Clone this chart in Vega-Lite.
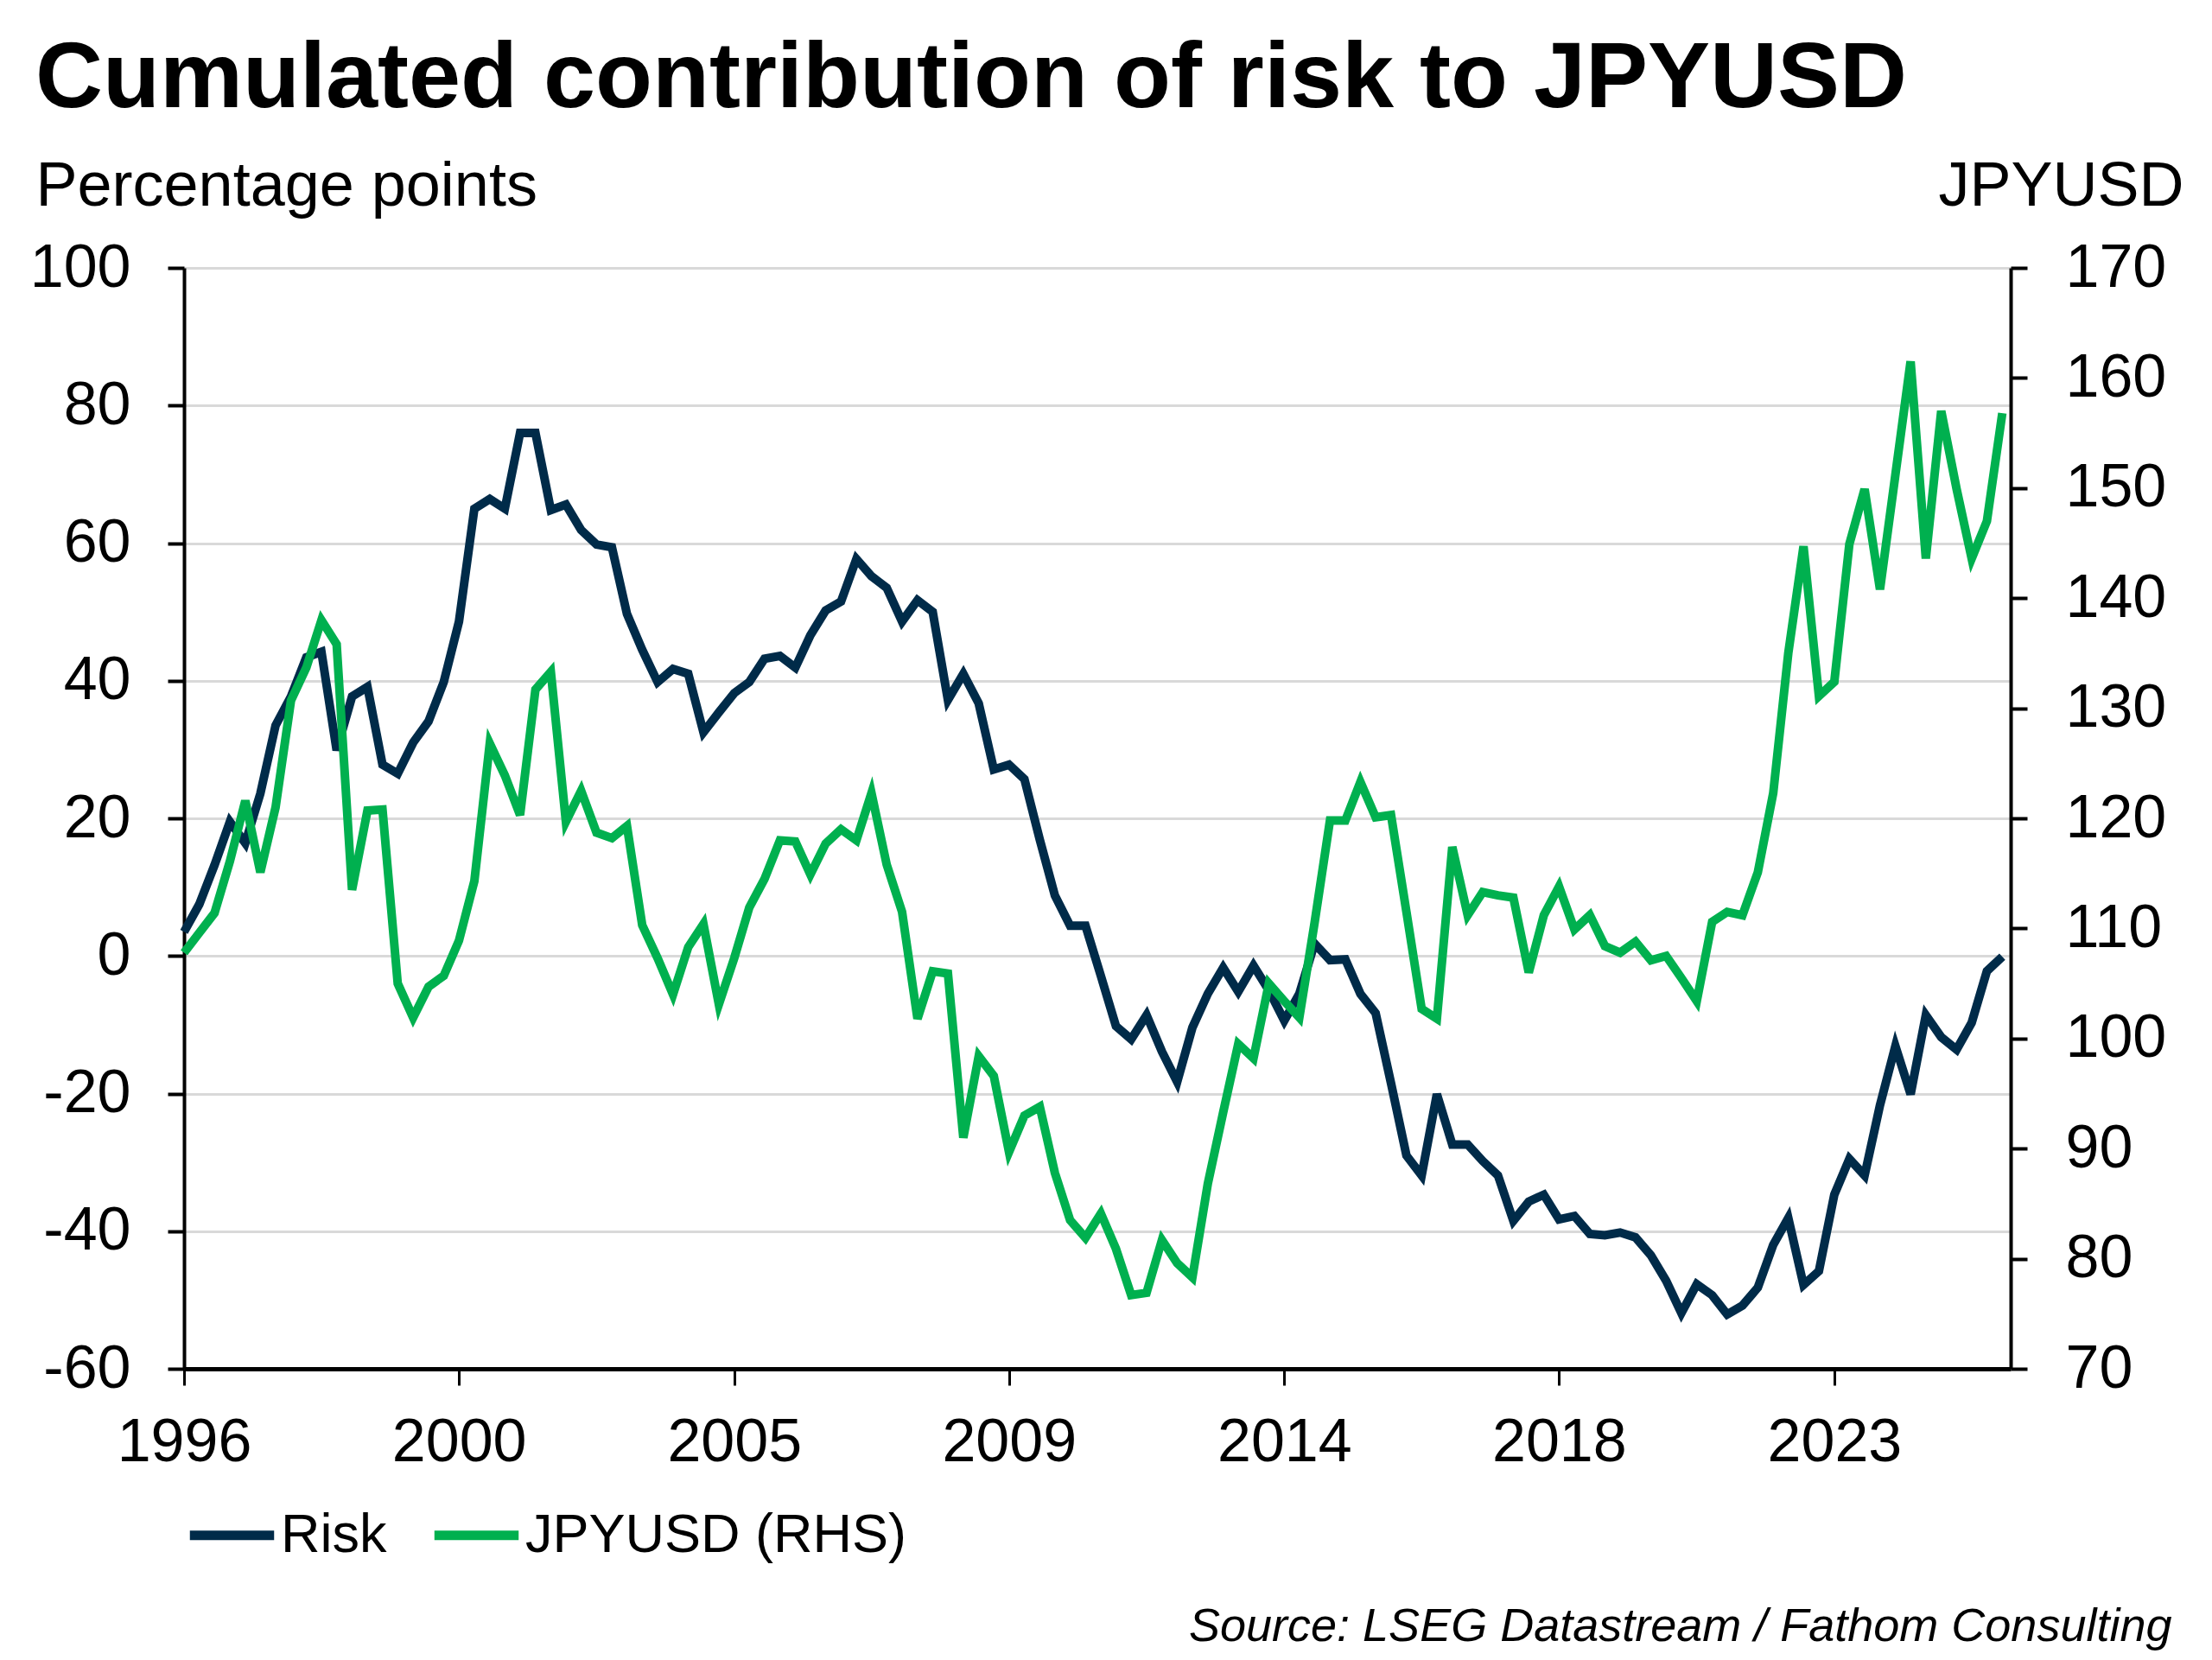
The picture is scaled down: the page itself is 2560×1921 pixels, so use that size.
{
  "$schema": "https://vega.github.io/schema/vega-lite/v6.json",
  "autosize": {"type": "none"},
  "width": 2114,
  "height": 1274,
  "padding": {"left": 213, "top": 310, "right": 233, "bottom": 337},
  "background": "white",
  "title": {
    "text": "Cumulated contribution of risk to JPYUSD",
    "anchor": "start",
    "frame": "group",
    "font": "Liberation Sans",
    "fontSize": 108,
    "fontWeight": "bold",
    "color": "black",
    "baseline": "alphabetic",
    "offset": 60,
    "dx": -172,
    "dy": 113
  },
  "data": {
    "values": [
      {"date": "1996-01-01", "risk": 3.5, "jpy": 107.8},
      {"date": "1996-04-01", "risk": 7.5, "jpy": 109.6},
      {"date": "1996-07-01", "risk": 13.2, "jpy": 111.4},
      {"date": "1996-10-01", "risk": 19.5, "jpy": 116.1},
      {"date": "1997-01-01", "risk": 16.4, "jpy": 121.6},
      {"date": "1997-04-01", "risk": 23.6, "jpy": 115.1},
      {"date": "1997-07-01", "risk": 33.5, "jpy": 121.0},
      {"date": "1997-10-01", "risk": 37.7, "jpy": 130.7},
      {"date": "1998-01-01", "risk": 43.4, "jpy": 133.7},
      {"date": "1998-04-01", "risk": 44.2, "jpy": 138.0},
      {"date": "1998-07-01", "risk": 29.9, "jpy": 135.8},
      {"date": "1998-10-01", "risk": 37.7, "jpy": 113.5},
      {"date": "1999-01-01", "risk": 39.1, "jpy": 120.7},
      {"date": "1999-04-01", "risk": 27.8, "jpy": 120.8},
      {"date": "1999-07-01", "risk": 26.5, "jpy": 105.0},
      {"date": "1999-10-01", "risk": 31.0, "jpy": 101.9},
      {"date": "2000-01-01", "risk": 34.1, "jpy": 104.7},
      {"date": "2000-04-01", "risk": 39.8, "jpy": 105.7},
      {"date": "2000-07-01", "risk": 48.6, "jpy": 108.9},
      {"date": "2000-10-01", "risk": 65.0, "jpy": 114.3},
      {"date": "2001-01-01", "risk": 66.4, "jpy": 126.8},
      {"date": "2001-04-01", "risk": 65.0, "jpy": 123.9},
      {"date": "2001-07-01", "risk": 76.0, "jpy": 120.3},
      {"date": "2001-10-01", "risk": 76.0, "jpy": 131.7},
      {"date": "2002-01-01", "risk": 64.8, "jpy": 133.3},
      {"date": "2002-04-01", "risk": 65.6, "jpy": 119.7},
      {"date": "2002-07-01", "risk": 61.9, "jpy": 122.5},
      {"date": "2002-10-01", "risk": 59.8, "jpy": 118.7},
      {"date": "2003-01-01", "risk": 59.4, "jpy": 118.2},
      {"date": "2003-04-01", "risk": 49.7, "jpy": 119.3},
      {"date": "2003-07-01", "risk": 44.5, "jpy": 110.3},
      {"date": "2003-10-01", "risk": 39.8, "jpy": 107.3},
      {"date": "2004-01-01", "risk": 41.7, "jpy": 104.0},
      {"date": "2004-04-01", "risk": 41.0, "jpy": 108.3},
      {"date": "2004-07-01", "risk": 32.5, "jpy": 110.4},
      {"date": "2004-10-01", "risk": 35.4, "jpy": 103.1},
      {"date": "2005-01-01", "risk": 38.2, "jpy": 107.3},
      {"date": "2005-04-01", "risk": 39.8, "jpy": 111.9},
      {"date": "2005-07-01", "risk": 43.2, "jpy": 114.5},
      {"date": "2005-10-01", "risk": 43.6, "jpy": 118.0},
      {"date": "2006-01-01", "risk": 41.9, "jpy": 117.9},
      {"date": "2006-04-01", "risk": 46.6, "jpy": 114.9},
      {"date": "2006-07-01", "risk": 50.2, "jpy": 117.7},
      {"date": "2006-10-01", "risk": 51.5, "jpy": 119.0},
      {"date": "2007-01-01", "risk": 57.7, "jpy": 118.0},
      {"date": "2007-04-01", "risk": 55.2, "jpy": 122.3},
      {"date": "2007-07-01", "risk": 53.5, "jpy": 115.8},
      {"date": "2007-10-01", "risk": 48.6, "jpy": 111.5},
      {"date": "2008-01-01", "risk": 51.7, "jpy": 101.8},
      {"date": "2008-04-01", "risk": 50.0, "jpy": 106.1},
      {"date": "2008-07-01", "risk": 37.2, "jpy": 105.9},
      {"date": "2008-10-01", "risk": 41.0, "jpy": 91.0},
      {"date": "2009-01-01", "risk": 36.7, "jpy": 98.4},
      {"date": "2009-04-01", "risk": 27.1, "jpy": 96.6},
      {"date": "2009-07-01", "risk": 27.8, "jpy": 89.7},
      {"date": "2009-10-01", "risk": 25.7, "jpy": 93.0},
      {"date": "2010-01-01", "risk": 16.9, "jpy": 93.8},
      {"date": "2010-04-01", "risk": 8.8, "jpy": 87.8},
      {"date": "2010-07-01", "risk": 4.4, "jpy": 83.5},
      {"date": "2010-10-01", "risk": 4.4, "jpy": 81.9},
      {"date": "2011-01-01", "risk": -2.9, "jpy": 84.1},
      {"date": "2011-04-01", "risk": -10.2, "jpy": 80.9},
      {"date": "2011-07-01", "risk": -12.1, "jpy": 76.7},
      {"date": "2011-10-01", "risk": -8.6, "jpy": 76.9},
      {"date": "2012-01-01", "risk": -13.9, "jpy": 81.7},
      {"date": "2012-04-01", "risk": -18.3, "jpy": 79.6},
      {"date": "2012-07-01", "risk": -10.4, "jpy": 78.3},
      {"date": "2012-10-01", "risk": -5.5, "jpy": 86.8},
      {"date": "2013-01-01", "risk": -1.7, "jpy": 93.3},
      {"date": "2013-04-01", "risk": -5.2, "jpy": 99.5},
      {"date": "2013-07-01", "risk": -1.4, "jpy": 98.2},
      {"date": "2013-10-01", "risk": -5.0, "jpy": 105.0},
      {"date": "2014-01-01", "risk": -9.4, "jpy": 103.4},
      {"date": "2014-04-01", "risk": -5.5, "jpy": 101.9},
      {"date": "2014-07-01", "risk": 1.8, "jpy": 110.5},
      {"date": "2014-10-01", "risk": -0.6, "jpy": 119.8},
      {"date": "2015-01-01", "risk": -0.5, "jpy": 119.8},
      {"date": "2015-04-01", "risk": -5.5, "jpy": 123.3},
      {"date": "2015-07-01", "risk": -8.3, "jpy": 120.1},
      {"date": "2015-10-01", "risk": -18.5, "jpy": 120.3},
      {"date": "2016-01-01", "risk": -29.0, "jpy": 111.5},
      {"date": "2016-04-01", "risk": -31.9, "jpy": 102.7},
      {"date": "2016-07-01", "risk": -20.1, "jpy": 101.8},
      {"date": "2016-10-01", "risk": -27.4, "jpy": 117.4},
      {"date": "2017-01-01", "risk": -27.4, "jpy": 111.2},
      {"date": "2017-04-01", "risk": -29.8, "jpy": 113.3},
      {"date": "2017-07-01", "risk": -31.9, "jpy": 113.0},
      {"date": "2017-10-01", "risk": -38.5, "jpy": 112.8},
      {"date": "2018-01-01", "risk": -35.7, "jpy": 106.0},
      {"date": "2018-04-01", "risk": -34.7, "jpy": 111.2},
      {"date": "2018-07-01", "risk": -38.3, "jpy": 113.8},
      {"date": "2018-10-01", "risk": -37.8, "jpy": 109.9},
      {"date": "2019-01-01", "risk": -40.4, "jpy": 111.2},
      {"date": "2019-04-01", "risk": -40.6, "jpy": 108.4},
      {"date": "2019-07-01", "risk": -40.2, "jpy": 107.8},
      {"date": "2019-10-01", "risk": -40.9, "jpy": 108.8},
      {"date": "2020-01-01", "risk": -43.5, "jpy": 107.1},
      {"date": "2020-04-01", "risk": -47.2, "jpy": 107.5},
      {"date": "2020-07-01", "risk": -51.9, "jpy": 105.5},
      {"date": "2020-10-01", "risk": -47.7, "jpy": 103.4},
      {"date": "2021-01-01", "risk": -49.3, "jpy": 110.6},
      {"date": "2021-04-01", "risk": -52.1, "jpy": 111.5},
      {"date": "2021-07-01", "risk": -50.8, "jpy": 111.2},
      {"date": "2021-10-01", "risk": -48.2, "jpy": 115.1},
      {"date": "2022-01-01", "risk": -42.0, "jpy": 122.3},
      {"date": "2022-04-01", "risk": -38.1, "jpy": 135.0},
      {"date": "2022-07-01", "risk": -47.8, "jpy": 144.7},
      {"date": "2022-10-01", "risk": -45.8, "jpy": 131.1},
      {"date": "2023-01-01", "risk": -34.7, "jpy": 132.4},
      {"date": "2023-04-01", "risk": -29.5, "jpy": 144.9},
      {"date": "2023-07-01", "risk": -31.9, "jpy": 149.9},
      {"date": "2023-10-01", "risk": -21.7, "jpy": 140.8},
      {"date": "2024-01-01", "risk": -13.1, "jpy": 151.2},
      {"date": "2024-04-01", "risk": -20.1, "jpy": 161.5},
      {"date": "2024-07-01", "risk": -8.6, "jpy": 143.6},
      {"date": "2024-10-01", "risk": -11.8, "jpy": 157.0},
      {"date": "2025-01-01", "risk": -13.6, "jpy": 149.9},
      {"date": "2025-04-01", "risk": -9.7, "jpy": 143.6},
      {"date": "2025-07-01", "risk": -2.2, "jpy": 147.0},
      {"date": "2025-10-01", "risk": -0.1, "jpy": 156.8}
    ]
  },
  "encoding": {
    "x": {
      "field": "date",
      "type": "temporal",
      "scale": {
        "type": "utc",
        "domain": [
          {"year": 1996, "month": 1, "date": 1, "utc": true},
          {"year": 2025, "month": 11, "date": 20, "utc": true}
        ]
      },
      "axis": {
        "values": [
          {"year": 1996, "month": 1, "date": 1, "utc": true},
          {"year": 2000, "month": 7, "date": 1, "utc": true},
          {"year": 2005, "month": 1, "date": 1, "utc": true},
          {"year": 2009, "month": 7, "date": 1, "utc": true},
          {"year": 2014, "month": 1, "date": 1, "utc": true},
          {"year": 2018, "month": 7, "date": 1, "utc": true},
          {"year": 2023, "month": 1, "date": 1, "utc": true}
        ],
        "labelExpr": "utcFormat(datum.value, '%Y')",
        "grid": false,
        "domainWidth": 5,
        "tickSize": 19,
        "tickWidth": 3,
        "labelBaseline": "top",
        "labelPadding": 32,
        "labelFlush": false,
        "title": "Source: LSEG Datastream / Fathom Consulting",
        "titleFont": "Liberation Sans",
        "titleFontSize": 54,
        "titleFontStyle": "italic",
        "titleFontWeight": "normal",
        "titleColor": "black",
        "titleAngle": 0,
        "titleAlign": "right",
        "titleBaseline": "alphabetic",
        "titleAnchor": null,
        "titleX": 2300,
        "titleY": 314
      }
    }
  },
  "layer": [
    {
      "mark": {"type": "line", "strokeWidth": 10},
      "encoding": {
        "y": {
          "field": "risk",
          "type": "quantitative",
          "scale": {"domain": [-60, 100], "nice": false, "zero": false},
          "axis": {
            "orient": "left",
            "values": [-60, -40, -20, 0, 20, 40, 60, 80, 100],
            "labelExpr": "datum.value + ''",
            "grid": true,
            "gridColor": "#d9d9d9",
            "gridWidth": 3,
            "domainWidth": 4,
            "tickSize": 19,
            "tickWidth": 4,
            "labelPadding": 43,
            "labelFlush": false,
            "title": "Percentage points",
            "titleFont": "Liberation Sans",
            "titleFontSize": 72,
            "titleFontWeight": "normal",
            "titleColor": "black",
            "titleAngle": 0,
            "titleAlign": "left",
            "titleBaseline": "alphabetic",
            "titleAnchor": null,
            "titleX": -172,
            "titleY": -73
          }
        },
        "color": {"datum": "Risk"}
      }
    },
    {
      "mark": {"type": "line", "strokeWidth": 10},
      "encoding": {
        "y": {
          "field": "jpy",
          "type": "quantitative",
          "scale": {"domain": [70, 170], "nice": false, "zero": false},
          "axis": {
            "orient": "right",
            "values": [70, 80, 90, 100, 110, 120, 130, 140, 150, 160, 170],
            "labelExpr": "datum.value + ''",
            "grid": false,
            "domainWidth": 4,
            "tickSize": 19,
            "tickWidth": 4,
            "labelPadding": 44,
            "labelFlush": false,
            "title": "JPYUSD",
            "titleFont": "Liberation Sans",
            "titleFontSize": 72,
            "titleFontWeight": "normal",
            "titleColor": "black",
            "titleAngle": 0,
            "titleAlign": "right",
            "titleBaseline": "alphabetic",
            "titleAnchor": null,
            "titleX": 200,
            "titleY": -73
          }
        },
        "color": {"datum": "JPYUSD (RHS)"}
      }
    }
  ],
  "resolve": {"scale": {"y": "independent"}},
  "config": {
    "view": {"stroke": null},
    "font": "Liberation Sans",
    "axis": {
      "labelFont": "Liberation Sans",
      "labelFontSize": 70,
      "labelColor": "black",
      "domainColor": "black",
      "tickColor": "black"
    },
    "range": {"category": ["#002b49", "#00b04f"]},
    "legend": {
      "orient": "none",
      "legendX": 1,
      "legendY": 1412,
      "direction": "horizontal",
      "title": null,
      "symbolType": "stroke",
      "symbolSize": 9500,
      "symbolStrokeWidth": 11,
      "labelFont": "Liberation Sans",
      "labelFontSize": 63,
      "labelColor": "black",
      "labelOffset": 2,
      "labelLimit": 800,
      "columnPadding": 32,
      "padding": 0
    }
  }
}
